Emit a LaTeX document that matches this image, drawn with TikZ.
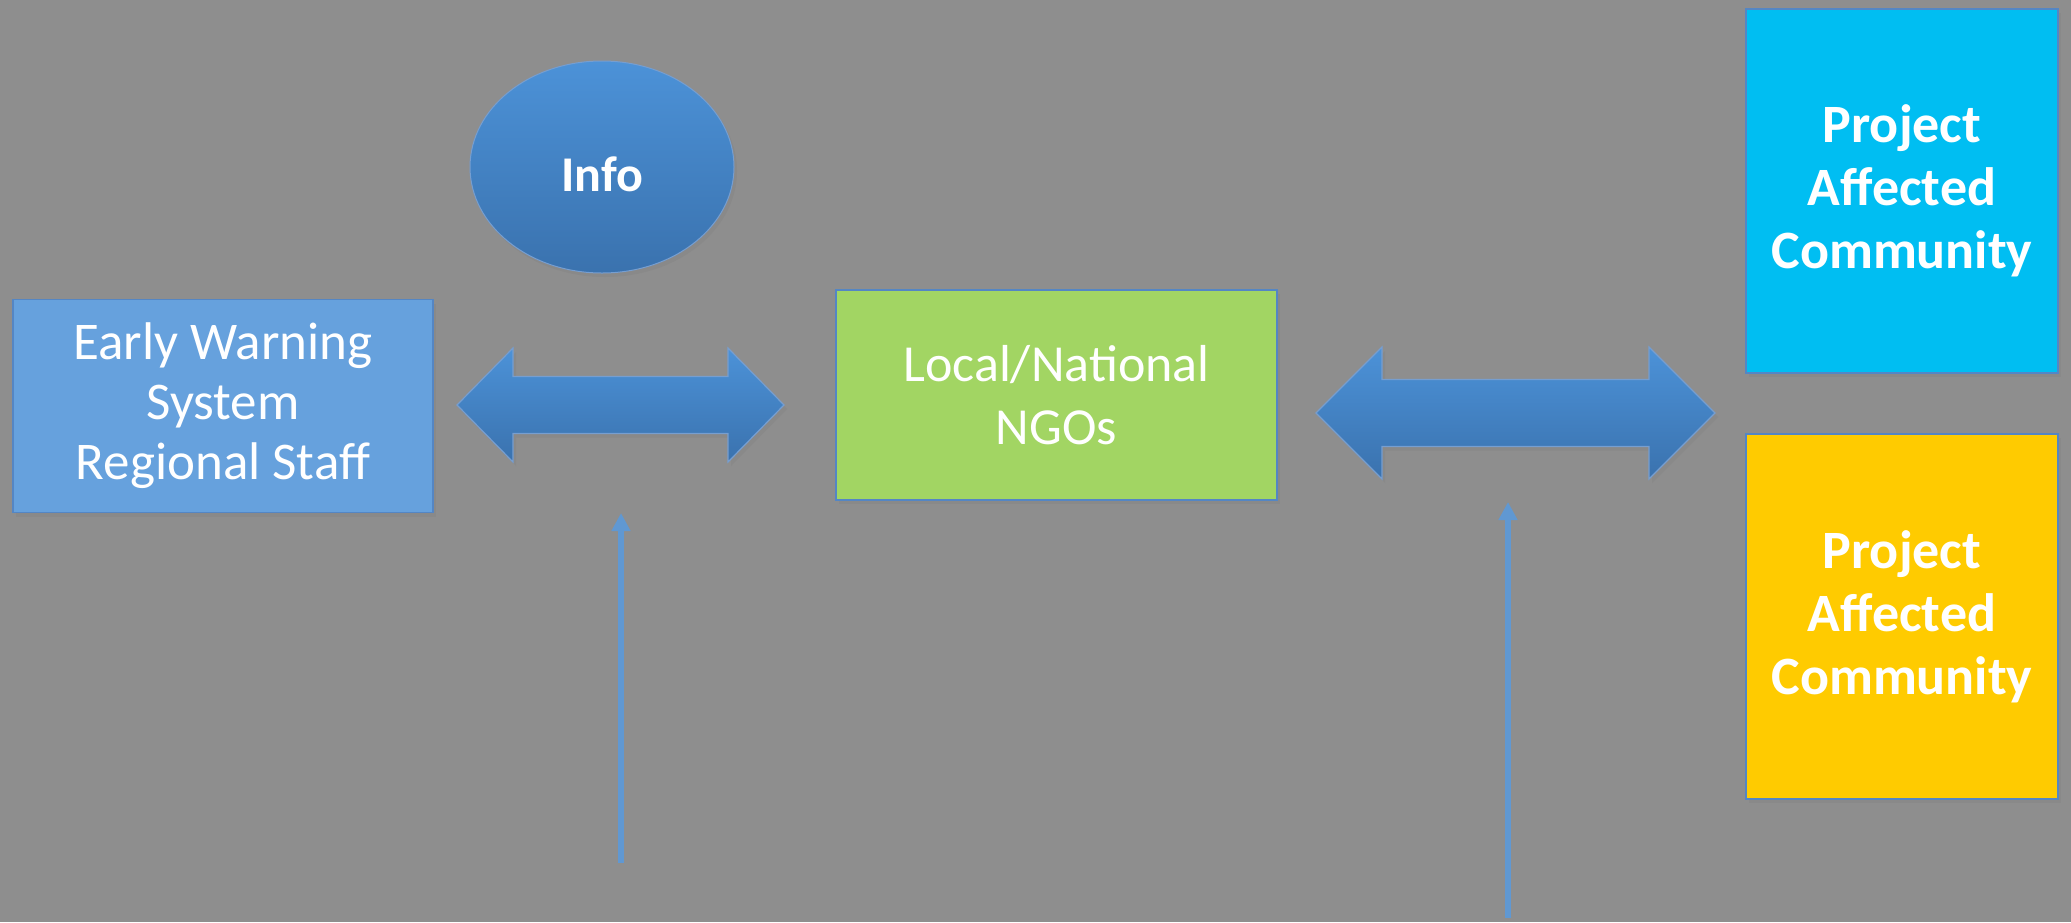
\documentclass[tikz,border=0pt]{standalone}
\usepackage{fontspec}
\setmainfont{Carlito}
\usetikzlibrary{shapes.geometric,arrows.meta,shadows}

\definecolor{bggray}{RGB}{142,142,142}
\definecolor{edgeblue}{RGB}{84,134,196}
\definecolor{ewsblue}{RGB}{102,161,221}
\definecolor{ngogreen}{RGB}{162,213,99}
\definecolor{pacyan}{RGB}{0,190,242}
\definecolor{payellow}{RGB}{255,203,0}
\definecolor{infotop}{RGB}{76,146,216}
\definecolor{infobot}{RGB}{58,114,174}
\definecolor{feedblue}{RGB}{96,152,210}

\begin{document}
\begin{tikzpicture}
  [x=0.5pt,y=-0.5pt,
   shade/.style={drop shadow={shadow xshift=1.5pt,shadow yshift=-2pt,opacity=.35}},
   box/.style={rectangle,draw=edgeblue,line width=0.75pt,text=white,align=center,
     shade,font=\fontsize{26}{31.5}\selectfont},
   pabox/.style={box,minimum width=156pt,minimum height=182pt,
     font=\bfseries\fontsize{27}{31.5}\selectfont},
   infoball/.style={ellipse,draw=edgeblue!80!white,line width=0.5pt,text=white,
     top color=infotop,bottom color=infobot,shade,text height=24pt,text depth=0pt,
     font=\bfseries\fontsize{25}{30}\selectfont},
   twoway/.style={draw=edgeblue!80!white,line width=0.6pt,top color=infotop,
     bottom color=infobot,shade},
   feed/.style={draw=feedblue,line width=3pt,-{Triangle[width=9pt,length=9pt]}}]

  \useasboundingbox[fill=bggray] (0,0) rectangle (2071,922);

  \node[box,fill=ewsblue,minimum width=210pt,minimum height=106.5pt,
    font=\fontsize{26.5}{30}\selectfont] (ews) at (223,406)
    {Early Warning\\System\\Regional Staff};
  \node[infoball,minimum width=132pt,minimum height=106pt] (info) at (602,167) {Info};
  \node[box,fill=ngogreen,minimum width=220.5pt,minimum height=105pt]
    (ngo) at (1056.5,395) {Local/National\\NGOs};
  \node[pabox,fill=pacyan] (pa1) at (1902,191) {Project\\Affected\\Community};
  \node[pabox,fill=payellow,minimum height=182.5pt] (pa2) at (1902,616.5)
    {Project\\Affected\\Community};

  % two-way block arrows
  \foreach \xa/\xb/\yc/\hh/\sh/\hl in {457/784/405/57/28.5/56,1316/1715/413/66/33.5/66}
    \path[twoway] (\xa,\yc) -- ({\xa+\hl},{\yc-\hh}) -- ({\xa+\hl},{\yc-\sh})
      -- ({\xb-\hl},{\yc-\sh}) -- ({\xb-\hl},{\yc-\hh}) -- (\xb,\yc)
      -- ({\xb-\hl},{\yc+\hh}) -- ({\xb-\hl},{\yc+\sh}) -- ({\xa+\hl},{\yc+\sh})
      -- ({\xa+\hl},{\yc+\hh}) -- cycle;

  \coordinate (srcA) at (621,863);
  \coordinate (dstA) at (621,513);
  \coordinate (srcB) at (1508,918);
  \coordinate (dstB) at (1508,502);

  \foreach \from/\to in {srcA/dstA,srcB/dstB}
    \draw[feed] (\from) -- (\to);

\end{tikzpicture}
\end{document}
